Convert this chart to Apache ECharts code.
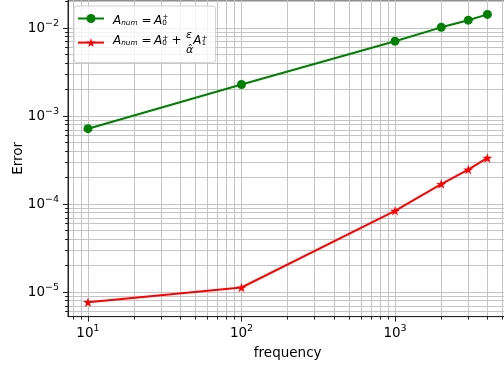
<!DOCTYPE html>
<html>
<head>
<meta charset="utf-8">
<script src="https://cdn.jsdelivr.net/npm/echarts@6/dist/echarts.min.js"></script>
<style>html,body{margin:0;padding:0;background:#fff}#c{width:504px;height:368px}</style>
</head>
<body>
<div id="c"></div>
<script>
// ---- data ----
const frequency = [10, 100, 1000, 2000, 3000, 4000];
const errA0 = [7.2e-4, 2.29e-3, 7.1e-3, 1.02e-2, 1.23e-2, 1.43e-2];
const errA0A1 = [7.7e-6, 1.13e-5, 8.4e-5, 1.69e-4, 2.47e-4, 3.35e-4];
const xRange = [7.41, 5398];
const yRange = [5.28e-6, 0.02085];
const xMinorTicks = [8, 9, 20, 30, 40, 50, 60, 70, 80, 90, 200, 300, 400, 500, 600, 700, 800, 900, 2000, 3000, 4000, 5000];
const yMinorTicks = [6e-6, 7e-6, 8e-6, 9e-6, 2e-5, 3e-5, 4e-5, 5e-5, 6e-5, 7e-5, 8e-5, 9e-5,
  2e-4, 3e-4, 4e-4, 5e-4, 6e-4, 7e-4, 8e-4, 9e-4, 2e-3, 3e-3, 4e-3, 5e-3, 6e-3, 7e-3, 8e-3, 9e-3, 2e-2];

const FONT = 'DejaVu Sans';
const gridColor = '#c4c4c4';
const starPath = 'path://M100 0 L122.45 69.1 L195.11 69.1 L136.33 111.8 L158.78 180.9 L100 138.2 L41.22 180.9 L63.67 111.8 L4.89 69.1 L77.55 69.1 Z';

function powLabel(v) {
  const e = Math.round(Math.log10(v));
  return '{b|10}{s|' + (e < 0 ? '\u2212' : '') + Math.abs(e) + '}';
}
const labelRich = {
  b: { fontSize: 13.5, fontFamily: FONT, color: '#000' },
  s: { fontSize: 9.5, fontFamily: FONT, color: '#000', padding: [0, 0, 10, 0] }
};

// rich styles for the math legend labels (bottom-aligned tokens, offset by bottom padding)
function tok(size, italic, pad, extra) {
  return Object.assign({ fontSize: size, fontFamily: FONT, fontStyle: italic ? 'italic' : 'normal',
    color: '#000', verticalAlign: 'bottom', padding: pad }, extra || {});
}
const mathRich = {
  // line 1
  a1: tok(12, true, [5.8, 0, 1.6, 4]),
  s1: tok(7.3, true, [0, 0, 1.8, 0]),
  e1: tok(12, false, [0, 2.5, 1.6, 4.0]),
  i1: tok(12, true, [0, 0, 1.6, 0]),
  p1: tok(7.3, false, [0, 0, 7.3, 0], { width: 0 }),
  b1: tok(7.3, false, [0, 0, 1.8, 0]),
  // line 2
  a2: tok(12, true, [5.8, 0, 8.8, 4]),
  s2: tok(7.3, true, [0, 0, 9.0, 0]),
  e2: tok(12, false, [0, 2.5, 8.8, 4.0]),
  i2: tok(12, true, [0, 0, 8.8, 0]),
  p2: tok(7.3, false, [0, 0, 14.5, 0], { width: 0 }),
  b2: tok(7.3, false, [0, 0, 9.0, 0]),
  o2: tok(12, false, [0, 4.4, 8.8, 4.6]),
  fn: tok(11, true, [0, 0, 15.5, 0], { width: 0 }),
  fd: tok(11, true, [0, 0, 0.5, 0])
};
const legendText = {
  'A0': '{a1|A}{s1|num}{e1|=}{i1|A}{p1|+}{b1|0}',
  'A01': '{a2|A}{s2|num}{e2|=}{i2|A}{p2|+}{b2|0}{o2|+}{fn|\u03b5}{fd|\u03b1\u0302}{i2|A}{p2|+}{b2|1}'
};

const chart = echarts.init(document.getElementById('c'), null, { renderer: 'canvas' });
chart.setOption({
  animation: false,
  backgroundColor: '#fff',
  grid: { left: 68, top: 0, right: -3.4, bottom: 51.4, outerBoundsMode: 'none', containLabel: false,
    show: true, borderColor: '#222', borderWidth: 1, backgroundColor: 'transparent' },
  legend: {
    data: ['A0', 'A01'],
    orient: 'vertical', left: 74, top: 6,
    padding: [7.9, 8, 7.3, 3], itemGap: 2.8,
    itemWidth: 26, itemHeight: 11.25,
    backgroundColor: 'rgba(255,255,255,0.8)', borderColor: '#d0d0d0', borderWidth: 1, borderRadius: 3,
    formatter: name => legendText[name],
    textStyle: { fontFamily: FONT, fontSize: 12, color: '#000', rich: mathRich }
  },
  xAxis: [{
    type: 'log', logBase: 10, min: xRange[0], max: xRange[1],
    name: 'frequency', nameLocation: 'middle', nameGap: 29.5, nameMoveOverlap: false,
    nameTextStyle: { fontSize: 13.5, fontFamily: FONT, color: '#000' },
    axisLine: { show: true, lineStyle: { color: '#222', width: 1 } },
    axisTick: { show: true, inside: false, length: 5, lineStyle: { color: '#222', width: 1 } },
    axisLabel: { formatter: powLabel, rich: labelRich, margin: 7, showMinLabel: false, showMaxLabel: false },
    splitLine: { show: true, showMinLine: false, showMaxLine: false, lineStyle: { color: gridColor, width: 1 } }
  }, {
    type: 'value', min: Math.log10(xRange[0]), max: Math.log10(xRange[1]), position: 'bottom',
    axisLine: { show: false }, axisLabel: { show: false },
    axisTick: { show: true, length: 3, customValues: xMinorTicks.map(Math.log10), lineStyle: { color: '#222', width: 1 } },
    splitLine: { show: true, lineStyle: { color: gridColor, width: 1 } }
  }],
  yAxis: [{
    type: 'log', logBase: 10, min: yRange[0], max: yRange[1],
    name: 'Error', nameLocation: 'middle', nameGap: 43, nameRotate: 90, nameMoveOverlap: false,
    nameTextStyle: { fontSize: 13.5, fontFamily: FONT, color: '#000' },
    axisLine: { show: true, lineStyle: { color: '#222', width: 1 } },
    axisTick: { show: true, inside: false, length: 5, lineStyle: { color: '#222', width: 1 } },
    axisLabel: { formatter: powLabel, rich: labelRich, margin: 9, showMinLabel: false, showMaxLabel: false },
    splitLine: { show: true, showMinLine: false, showMaxLine: false, lineStyle: { color: gridColor, width: 1 } }
  }, {
    type: 'value', min: Math.log10(yRange[0]), max: Math.log10(yRange[1]), position: 'left',
    axisLine: { show: false }, axisLabel: { show: false },
    axisTick: { show: true, length: 3, customValues: yMinorTicks.map(Math.log10), lineStyle: { color: '#222', width: 1 } },
    splitLine: { show: true, lineStyle: { color: gridColor, width: 1 } }
  }],
  series: [{
    name: 'A0', type: 'line', xAxisIndex: 0, yAxisIndex: 0,
    data: frequency.map((f, i) => [f, errA0[i]]),
    symbol: 'circle', symbolSize: 9,
    lineStyle: { color: '#008000', width: 2 }, itemStyle: { color: '#008000' }, z: 5
  }, {
    name: 'A01', type: 'line', xAxisIndex: 0, yAxisIndex: 0,
    data: frequency.map((f, i) => [f, errA0A1[i]]),
    symbol: starPath, symbolSize: 10, symbolKeepAspect: true,
    lineStyle: { color: '#ff0000', width: 2 }, itemStyle: { color: '#ff0000' }, z: 5
  }]
});
</script>
</body>
</html>
